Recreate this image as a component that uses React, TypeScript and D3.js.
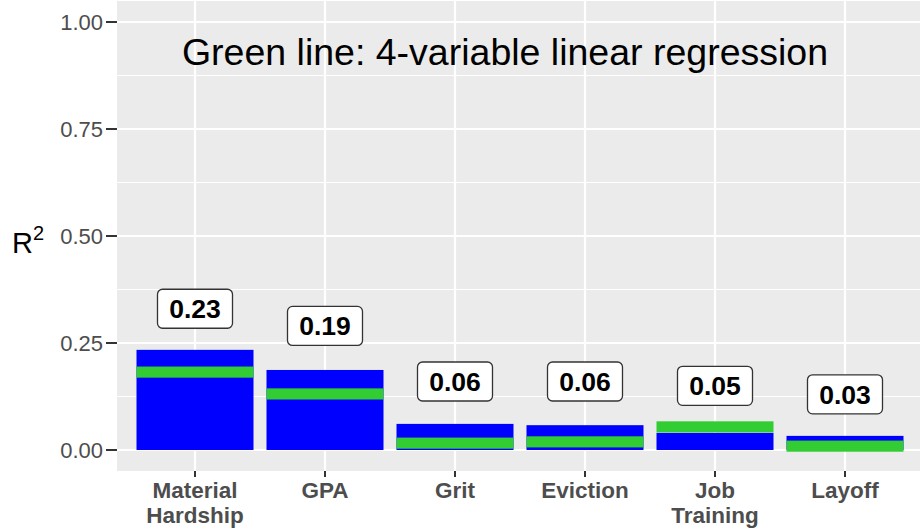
import React from "react";
// @ts-ignore
import * as d3 from "d3";

// categories on the x axis (line breaks split with "\n")
const categories = ["Material\nHardship", "GPA", "Grit", "Eviction", "Job\nTraining", "Layoff"];
// R^2 of the blue bars
const barValues = [0.234, 0.187, 0.061, 0.058, 0.04, 0.033];
// R^2 of the 4-variable linear regression (green line)
const lineValues = [0.182, 0.131, 0.016, 0.019, 0.054, 0.009];
// rounded values shown in the label boxes
const labelValues = [0.23, 0.19, 0.06, 0.06, 0.05, 0.03];
const yTicks = [0, 0.25, 0.5, 0.75, 1];
const yMinor = [0.125, 0.375, 0.625, 0.875];

const W = 920;
const H = 532;
const panel = { left: 117, right: 923, top: 1, bottom: 471 };

const App: React.FC = () => {
  // ggplot style discrete axis: 0.6 band expansion on each side
  const x = d3
    .scalePoint()
    .domain(categories)
    .range([panel.left, panel.right])
    .padding(0.6);
  const bw = x.step() * 0.9;

  const y = d3.scaleLinear().domain([0, 1]).range([450, 22]);
  const lineHalf = 0.013;
  const gridCol = "#ffffff";
  const axisText = "#4d4d4d";

  return (
    <svg width={W} height={H} style={{ position: "absolute", left: 0, top: 0, fontFamily: "Liberation Sans, Arial, sans-serif" }}>
      <rect x={0} y={0} width={W} height={H} fill="#ffffff" />
      <rect x={panel.left} y={panel.top} width={panel.right - panel.left} height={panel.bottom - panel.top} fill="#ebebeb" />
      {yMinor.map((v) => (
        <line key={"mn" + v} x1={panel.left} x2={panel.right} y1={y(v)} y2={y(v)} stroke={gridCol} strokeWidth={1.1} />
      ))}
      {yTicks.map((v) => (
        <line key={"mj" + v} x1={panel.left} x2={panel.right} y1={y(v)} y2={y(v)} stroke={gridCol} strokeWidth={2.2} />
      ))}
      {categories.map((c) => (
        <line key={"vg" + c} x1={x(c)} x2={x(c)} y1={panel.top} y2={panel.bottom} stroke={gridCol} strokeWidth={2.2} />
      ))}

      <text x={505} y={65} textAnchor="middle" fontSize={37.5} fill="#000">
        Green line: 4-variable linear regression
      </text>

      {categories.map((c, i) => (
        <g key={"b" + c}>
          <rect x={x(c) - bw / 2} y={y(barValues[i])} width={bw} height={y(0) - y(barValues[i])} fill="#0000ff" />
          <rect
            x={x(c) - bw / 2}
            y={y(lineValues[i] + lineHalf)}
            width={bw}
            height={y(lineValues[i] - lineHalf) - y(lineValues[i] + lineHalf)}
            fill="#32cd32"
          />
        </g>
      ))}

      {labelValues.map((v, i) => {
        const lx = x(categories[i]);
        const ly = y(v + 0.1);
        return (
          <g key={"l" + i}>
            <rect x={lx - 37.5} y={ly - 19.5} width={75} height={39} rx={5} fill="#ffffff" stroke="#333333" strokeWidth={1.3} />
            <text x={lx} y={ly + 9.5} textAnchor="middle" fontSize={26.5} fontWeight="bold" fill="#000">
              {v.toFixed(2)}
            </text>
          </g>
        );
      })}

      {yTicks.map((v) => (
        <g key={"yt" + v}>
          <line x1={106} x2={panel.left} y1={y(v)} y2={y(v)} stroke="#333333" strokeWidth={2} />
          <text x={103} y={y(v) + 8} textAnchor="end" fontSize={22} fill={axisText}>
            {v.toFixed(2)}
          </text>
        </g>
      ))}

      {categories.map((c) => (
        <g key={"xt" + c}>
          <line x1={x(c)} x2={x(c)} y1={panel.bottom} y2={panel.bottom + 6} stroke="#333333" strokeWidth={2} />
          {c.split("\n").map((s, k) => (
            <text key={k} x={x(c)} y={498 + k * 24.5} textAnchor="middle" fontSize={22.5} fontWeight="bold" fill={axisText}>
              {s}
            </text>
          ))}
        </g>
      ))}

      <text x={12} y={253} fontSize={29} fill="#000">
        R
        <tspan fontSize={20} dy={-13}>2</tspan>
      </text>
    </svg>
  );
};

export default App;
